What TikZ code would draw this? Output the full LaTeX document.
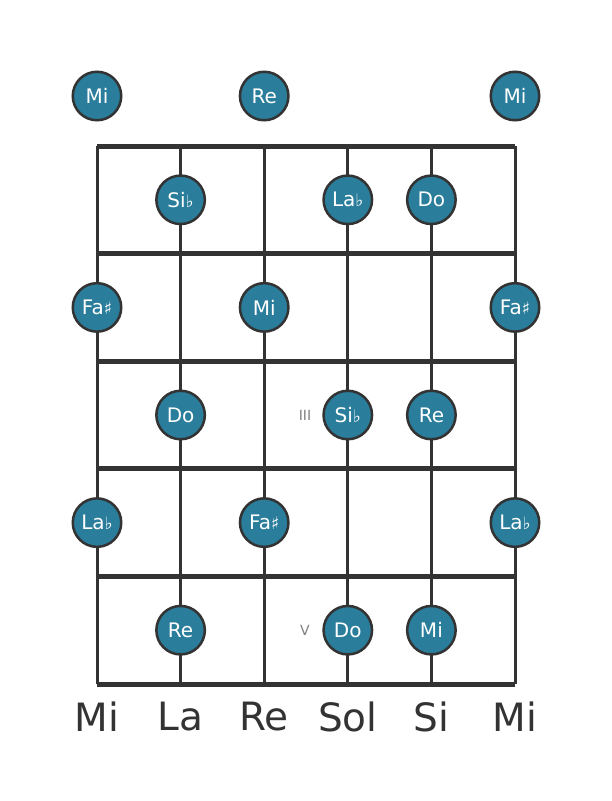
\documentclass[tikz,border=0pt]{standalone}
\usepackage{fontspec}
\setmainfont{DejaVu Sans}
\usetikzlibrary{positioning}
\definecolor{notefill}{HTML}{2A7D9B}
\definecolor{linegray}{HTML}{333333}
\tikzset{
    note/.style={
        circle,
        draw=linegray,
        line width=2.5pt,
        fill=notefill,
        minimum size=48.5pt,
        inner sep=0pt,
        text=white,
        font=\fontsize{20}{20}\selectfont
    },
    fretline/.style={
        draw=linegray,
        line width=5pt
    },
    stringline/.style={
        draw=linegray,
        line width=3pt
    },
    stringname/.style={
        text=linegray,
        font=\fontsize{39}{39}\selectfont
    },
    fretmark/.style={
        text=gray,
        font=\fontsize{14}{14}\selectfont
    }
}
\newcommand{\flatsign}{{\fontsize{17}{17}\selectfont ♭}}
\newcommand{\sharpsign}{{\fontsize{17}{17}\selectfont ♯}}

\begin{document}
\begin{tikzpicture}[x=1pt, y=-1pt]
\useasboundingbox (0,0) rectangle (611,801);

% Strings
\foreach \s in {0,...,5}
    \draw[stringline] (97+83.6*\s,146) -- (97+83.6*\s,684);

% Frets
\foreach \f in {0,...,5}
    \draw[fretline] (97,146+107.6*\f) -- (515,146+107.6*\f);

% Fret markers
\node[fretmark] (mark3) at (305,415) {III};
\node[fretmark] (mark5) at (305,630) {V};

% Open strings
\node[note] (open_e1) at (97,96) {Mi};
\node[note] (open_d) at (264.2,96) {Re};
\node[note] (open_e6) at (515,96) {Mi};

% Fret 1
\node[note] (f1_a) at (180.6,199.8) {Si\flatsign};
\node[note] (f1_g) at (347.8,199.8) {La\flatsign};
\node[note] (f1_b) at (431.4,199.8) {Do};

% Fret 2
\node[note] (f2_e1) at (97,307.4) {Fa\sharpsign};
\node[note] (f2_d) at (264.2,307.4) {Mi};
\node[note] (f2_e6) at (515,307.4) {Fa\sharpsign};

% Fret 3
\node[note] (f3_a) at (180.6,415) {Do};
\node[note] (f3_g) at (347.8,415) {Si\flatsign};
\node[note] (f3_b) at (431.4,415) {Re};

% Fret 4
\node[note] (f4_e1) at (97,522.6) {La\flatsign};
\node[note] (f4_d) at (264.2,522.6) {Fa\sharpsign};
\node[note] (f4_e6) at (515,522.6) {La\flatsign};

% Fret 5
\node[note] (f5_a) at (180.6,630.2) {Re};
\node[note] (f5_g) at (347.8,630.2) {Do};
\node[note] (f5_b) at (431.4,630.2) {Mi};

% String names
\foreach \name [count=\i from 0] in {Mi,La,Re,Sol,Si,Mi}
    \node[stringname] (name\i) at (97+83.6*\i,717) {\name};

\end{tikzpicture}
\end{document}
